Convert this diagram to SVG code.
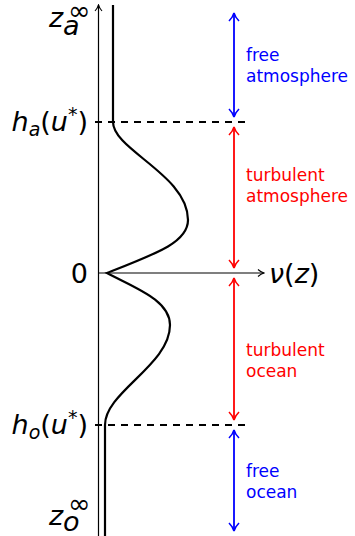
<svg xmlns="http://www.w3.org/2000/svg" width="355" height="536" viewBox="0 0 355 536">
<style>
.ax{stroke:#000;stroke-width:1.2;fill:none}
.curve{stroke:#000;stroke-width:2.2;fill:none}
.dash{stroke:#000;stroke-width:1.8;stroke-dasharray:7 6;fill:none}
.blue{stroke:#0000ff;stroke-width:1.8;fill:none}
.red{stroke:#ff0000;stroke-width:1.8;fill:none}
.lbl{font-family:"DejaVu Sans",sans-serif;font-size:17px}
.math{font-family:"DejaVu Sans",sans-serif;font-size:27px;fill:#000}
.it{font-style:italic}
</style>
<defs>
<marker id="ab" viewBox="0 0 12 12" refX="11" refY="6" markerWidth="12" markerHeight="12" markerUnits="userSpaceOnUse" orient="auto-start-reverse">
<path d="M3,1 Q7,5 11,6 Q7,7 3,11" fill="none" stroke="#0000ff" stroke-width="1.6"/>
</marker>
<marker id="ar" viewBox="0 0 12 12" refX="11" refY="6" markerWidth="12" markerHeight="12" markerUnits="userSpaceOnUse" orient="auto-start-reverse">
<path d="M3,1 Q7,5 11,6 Q7,7 3,11" fill="none" stroke="#ff0000" stroke-width="1.6"/>
</marker>
<marker id="ak" viewBox="0 0 10 10" refX="9" refY="5" markerWidth="10" markerHeight="10" markerUnits="userSpaceOnUse" orient="auto">
<path d="M3,1.5 Q6,4.2 9,5 Q6,5.8 3,8.5" fill="none" stroke="#000" stroke-width="1.1"/>
</marker>
</defs>
<g id="axes">
<line class="ax" x1="98.5" y1="536" x2="98.5" y2="5" marker-end="url(#ak)"/>
<line class="ax" x1="98" y1="273" x2="264" y2="273" marker-end="url(#ak)"/>
</g>
<g id="levels">
<line class="dash" x1="95" y1="122" x2="250" y2="122"/>
<line class="dash" x1="95" y1="425" x2="250" y2="425"/>
</g>
<g id="profile">
<path class="curve" d="M113,5 L113,122 C113,150 188,175 188,220 C188,242 158,253 107,273 C135,288 170,300 170,325 C170,365 105,392 105,425 L105,536"/>
</g>
<g id="connectors">
<line class="blue" x1="234" y1="13" x2="234" y2="117" marker-start="url(#ab)" marker-end="url(#ab)"/>
<line class="red" x1="234" y1="127" x2="234" y2="268" marker-start="url(#ar)" marker-end="url(#ar)"/>
<line class="red" x1="234" y1="278" x2="234" y2="420" marker-start="url(#ar)" marker-end="url(#ar)"/>
<line class="blue" x1="234" y1="430" x2="234" y2="531" marker-start="url(#ab)" marker-end="url(#ab)"/>
</g>
<g id="labels-right">
<text class="lbl" x="246" y="61" fill="#0000ff">free</text>
<text class="lbl" x="246" y="82" fill="#0000ff">atmosphere</text>
<text class="lbl" x="246" y="181" fill="#ff0000">turbulent</text>
<text class="lbl" x="246" y="202" fill="#ff0000">atmosphere</text>
<text class="lbl" x="246" y="356" fill="#ff0000">turbulent</text>
<text class="lbl" x="246" y="377" fill="#ff0000">ocean</text>
<text class="lbl" x="246" y="477" fill="#0000ff">free</text>
<text class="lbl" x="246" y="498" fill="#0000ff">ocean</text>
</g>
<g id="labels-left">
<text class="math it" x="49" y="27">z</text>
<text class="math it" x="63" y="35" font-size="17">a</text>
<text class="math" x="68" y="20" font-size="18">∞</text>
<text class="math" x="88" y="131" text-anchor="end"><tspan class="it">h</tspan><tspan class="it" font-size="19" dy="5">a</tspan><tspan dy="-5">(</tspan><tspan class="it">u</tspan><tspan font-size="19" dy="-10">*</tspan><tspan dy="10">)</tspan></text>
<text class="math" x="88" y="283" text-anchor="end">0</text>
<text class="math" x="88" y="434" text-anchor="end"><tspan class="it">h</tspan><tspan class="it" font-size="19" dy="5">o</tspan><tspan dy="-5">(</tspan><tspan class="it">u</tspan><tspan font-size="19" dy="-10">*</tspan><tspan dy="10">)</tspan></text>
<text class="math it" x="49" y="525">z</text>
<text class="math it" x="63" y="531" font-size="17">o</text>
<text class="math" x="68" y="513" font-size="18">∞</text>
<text class="math" x="269" y="283" font-size="28"><tspan class="it">ν</tspan>(<tspan class="it">z</tspan>)</text>
</g>
</svg>
